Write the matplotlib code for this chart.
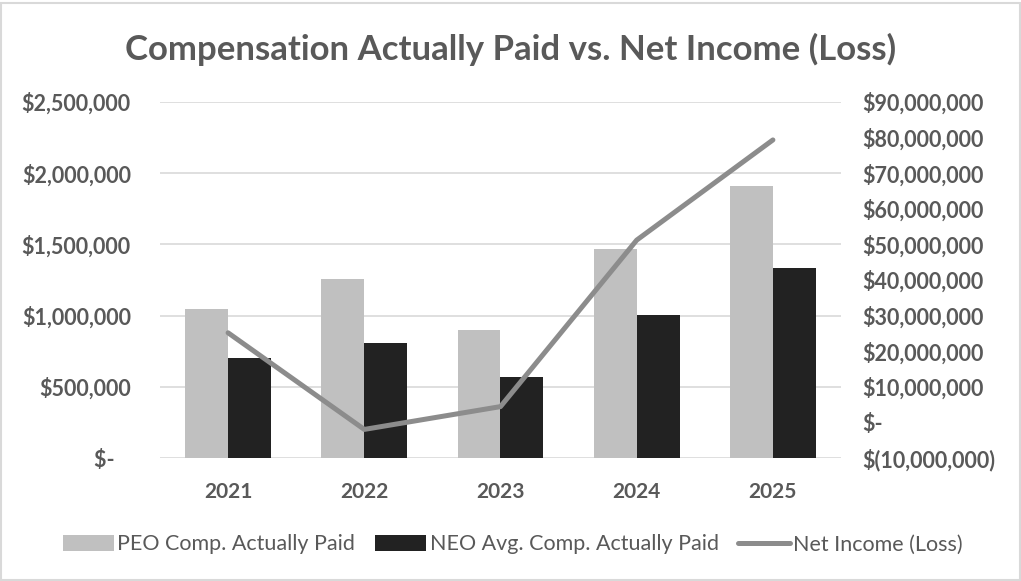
import numpy as np
import matplotlib
matplotlib.use('Agg')
import matplotlib.pyplot as plt
from matplotlib.patches import Rectangle
import matplotlib.ticker as ticker

# Datos
years = ['2021', '2022', '2023', '2024', '2025']
peo_cap = [1050000, 1260000, 900000, 1465000, 1910000]
neo_cap = [700000, 805000, 570000, 1005000, 1335000]
net_income = [25200000, -1900000, 4500000, 51200000, 79300000]

left_ticks = [0, 500000, 1000000, 1500000, 2000000, 2500000]
right_ticks = list(range(-10000000, 90000001, 10000000))

TXT = '#595959'
plt.rcParams.update({
    'font.family': ['Lato', 'DejaVu Sans'],
})


def fmt_left(v, pos=None):
    if v == 0:
        return '$-   '
    return '${:,.0f}'.format(v)


def fmt_right(v, pos=None):
    if v == 0:
        return '$-'
    if v < 0:
        return '$({:,.0f})'.format(-v)
    return '${:,.0f}'.format(v)


fig = plt.figure(figsize=(10.21, 5.81), dpi=100)
ax1 = fig.add_axes([0.1567, 0.2112, 0.667, 0.6136])
x = np.arange(len(years))
w = 0.315

ax1.bar(x - w/2, peo_cap, w, color='#c0c0c0', label='PEO Comp. Actually Paid', zorder=2)
ax1.bar(x + w/2, neo_cap, w, color='#222222', label='NEO Avg. Comp. Actually Paid', zorder=2)

ax1.set_xlim(-0.5, len(years) - 0.5)
ax1.set_ylim(0, 2500000)
ax1.set_yticks(left_ticks)
ax1.yaxis.set_major_formatter(ticker.FuncFormatter(fmt_left))
ax1.set_xticks(x)
ax1.set_xticklabels(years)
ax1.grid(axis='y', color='#d9d9d9', linewidth=1.2, zorder=0)
ax1.set_axisbelow(True)
for s in ax1.spines.values():
    s.set_visible(False)
ax1.tick_params(axis='y', length=0, colors=TXT, labelsize=15.5, pad=21)
ax1.tick_params(axis='x', length=0, colors=TXT, labelsize=15, pad=17)
for lbl in ax1.get_xticklabels() + ax1.get_yticklabels():
    lbl.set_fontweight('bold')

# Eje derecho: resultado neto
ax2 = ax1.twinx()
ax2.plot(x, net_income, color='#8c8c8c', linewidth=3.6, solid_capstyle='round',
         label='Net Income (Loss)', zorder=3)
ax2.set_ylim(-10000000, 90000000)
ax2.set_yticks(right_ticks)
ax2.yaxis.set_major_formatter(ticker.FuncFormatter(fmt_right))
for s in ax2.spines.values():
    s.set_visible(False)
ax2.tick_params(axis='y', length=0, colors=TXT, labelsize=15.5, pad=15.5)
for lbl in ax2.get_yticklabels():
    lbl.set_fontweight('bold')

fig.text(0.5, 0.915, 'Compensation Actually Paid vs. Net Income (Loss)',
         ha='center', va='center', fontsize=25, fontweight='bold', color=TXT)

h1, l1 = ax1.get_legend_handles_labels()
h2, l2 = ax2.get_legend_handles_labels()
leg = fig.legend(h1 + h2, l1 + l2, loc='center', bbox_to_anchor=(0.502, 0.063),
                 ncol=3, frameon=False, fontsize=15.5, handlelength=2.4,
                 handleheight=0.8, handletextpad=0.15, columnspacing=0.9)
for t in leg.get_texts():
    t.set_color(TXT)

# Marco de la figura
fig.patches.append(Rectangle((0.001, 0.001), 0.998, 0.994, transform=fig.transFigure,
                             fill=False, edgecolor='#d9d9d9', linewidth=1.5))

fig.savefig('out.png', dpi=100)
